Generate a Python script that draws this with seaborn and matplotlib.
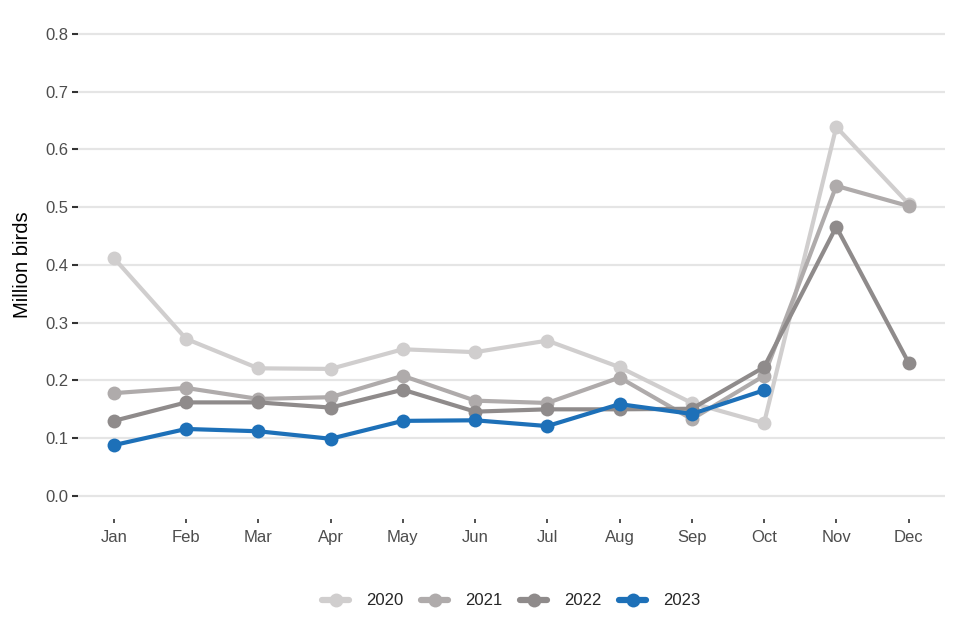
import matplotlib
matplotlib.use("Agg")
import matplotlib.pyplot as plt
import seaborn as sns
import pandas as pd

# monthly placings, million birds
months = ["Jan", "Feb", "Mar", "Apr", "May", "Jun", "Jul", "Aug", "Sep", "Oct", "Nov", "Dec"]
y2020 = [0.412, 0.272, 0.221, 0.220, 0.254, 0.249, 0.269, 0.223, 0.161, 0.126, 0.639, 0.506]
y2021 = [0.178, 0.187, 0.168, 0.171, 0.208, 0.165, 0.161, 0.205, 0.133, 0.208, 0.537, 0.502]
y2022 = [0.130, 0.162, 0.162, 0.153, 0.184, 0.146, 0.150, 0.150, 0.151, 0.223, 0.466, 0.231]
y2023 = [0.088, 0.116, 0.112, 0.099, 0.130, 0.131, 0.121, 0.159, 0.142, 0.183]

years = ["2020", "2021", "2022", "2023"]
colours = ["#D0CECE", "#AFABAB", "#8F8B8B", "#1D70B8"]

rows = []
for yr, vals in zip(years, [y2020, y2021, y2022, y2023]):
    for m, v in zip(months, vals):
        rows.append({"month": m, "year": yr, "value": v})
df = pd.DataFrame(rows)
df["pos"] = df["month"].map({m: i for i, m in enumerate(months)})

sns.set_style("white")
plt.rcParams["font.family"] = ["Liberation Sans", "DejaVu Sans"]

fig = plt.figure(figsize=(9.6, 6.4), dpi=100)
ax = fig.add_axes([0.081, 0.189, 0.903, 0.794])

sns.lineplot(data=df, x="pos", y="value", hue="year", hue_order=years,
             palette=dict(zip(years, colours)), marker="o", markersize=10,
             markeredgewidth=0, linewidth=3, ax=ax, legend=True)

ax.set_xlim(-0.5, 11.5)
ax.set_ylim(-0.04, 0.84)
ax.set_xticks(range(12))
ax.set_xticklabels(months)
ax.set_yticks([i / 10 for i in range(9)])
ax.set_yticklabels([f"{i / 10:.1f}" for i in range(9)])
ax.tick_params(axis="both", labelsize=12, labelcolor="#4D4D4D", colors="#333333")
ax.tick_params(axis="y", length=4, width=1.5, pad=3, left=True)
ax.tick_params(axis="x", length=3, width=1.2, pad=5, bottom=True)
ax.grid(axis="y", color="#E5E5E5", linewidth=1.6)
ax.grid(axis="x", visible=False)
ax.set_axisbelow(True)
for s in ax.spines.values():
    s.set_visible(False)
ax.set_xlabel("")
ax.set_ylabel("Million birds", fontsize=14.5, color="black", labelpad=9)

leg = ax.legend(loc="upper center", bbox_to_anchor=(0.5, -0.117), ncol=4, frameon=False,
                fontsize=12, handlelength=1.6, columnspacing=1.1, handletextpad=1.0,
                title=None)
for h in leg.legend_handles:
    h.set_linewidth(4.5)

fig.savefig("out.png", dpi=100)
